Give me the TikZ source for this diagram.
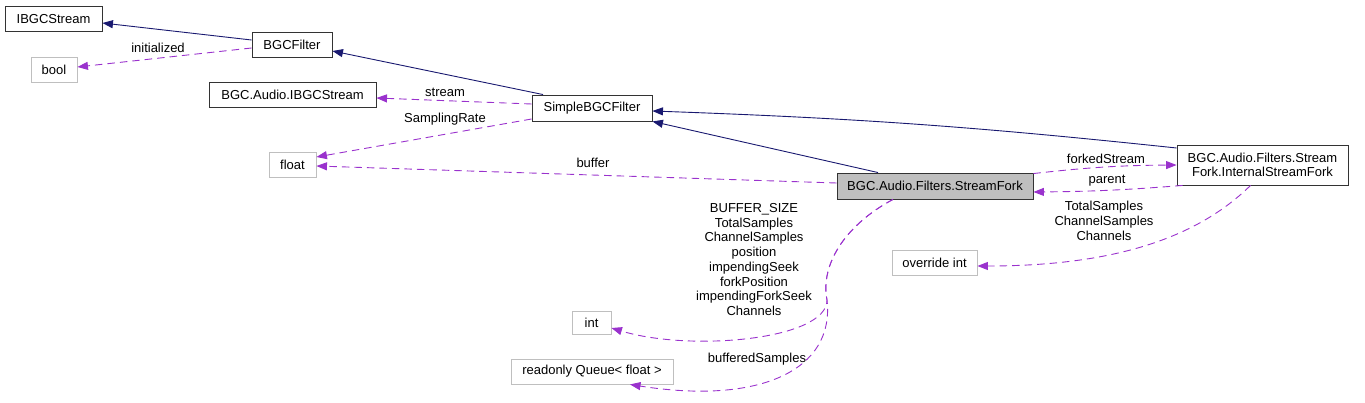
\documentclass[tikz,border=0pt]{standalone}
\usepackage{fontspec}
\setmainfont{Liberation Sans}
\usetikzlibrary{arrows.meta,positioning}

\definecolor{inhblue}{HTML}{191970}
\definecolor{usepurple}{HTML}{9A32CD}
\definecolor{extgray}{HTML}{BFBFBF}

\begin{document}
\begin{tikzpicture}[x=1pt, y=-1pt, >={Triangle[length=10.5pt,width=8pt]},
        font=\fontsize{13}{14.7}\selectfont,
        cls/.style={draw=black!80, line width=0.9pt, fill=white, inner sep=0pt, minimum height=25pt, align=center},
        ext/.style={cls, draw=extgray},
        cur/.style={cls, fill=extgray},
        inh/.style={->, draw=inhblue, line width=0.9pt},
        uses/.style={->, draw=usepurple, line width=0.9pt, dash pattern=on 7.5pt off 5pt},
        lbl/.style={inner sep=0pt, align=center}]
        \useasboundingbox (0,0) rectangle (1365,403);

        % classes
        \node[cls, minimum width=97pt] (ibgcstream) at (53.5,19) {IBGCStream};
        \node[cls, minimum width=80pt] (bgcfilter) at (292,44.5) {BGCFilter};
        \node[ext, minimum width=46pt] (bool) at (54,69.5) {bool};
        \node[cls, minimum width=167pt] (audiostream) at (292.5,94.5) {BGC.Audio.IBGCStream};
        \node[cls, minimum width=120pt, minimum height=26pt] (simple) at (592,108) {SimpleBGCFilter};
        \node[ext, minimum width=47pt] (float) at (292.5,164.5) {float};
        \node[cur, minimum width=196pt, minimum height=26pt] (fork) at (935,186) {BGC.Audio.Filters.StreamFork};
        \node[cls, minimum width=171pt, minimum height=40pt] (internal) at (1262.5,165) {BGC.Audio.Filters.Stream\\Fork.InternalStreamFork};
        \node[ext, minimum width=85pt] (overint) at (934.5,262.5) {override int};
        \node[ext, minimum width=39pt, minimum height=23pt] (int) at (591.5,322.5) {int};
        \node[ext, minimum width=162pt] (queue) at (592,371.5) {readonly Queue< float >};

        % inheritance
        \draw[inh] ([yshift=4.5pt]bgcfilter.west) -- ([yshift=-4pt]ibgcstream.east);
        \draw[inh] ([xshift=-49pt]simple.north) -- ([yshift=-6.5pt]bgcfilter.east);
        \draw[inh] ([xshift=-57pt]fork.north) -- (simple.south east);
        \draw[inh] ([yshift=17pt]internal.west) to[bend right=2] ([yshift=-3pt]simple.east);

        % usage
        \draw[uses] ([yshift=-3.5pt]bgcfilter.west) -- ([yshift=2.5pt]bool.east);
        \draw[uses] ([yshift=4pt]simple.west) -- ([yshift=-3.5pt]audiostream.east);
        \draw[uses] ([yshift=-11pt]simple.west) -- ([yshift=7.5pt]float.east);
        \draw[uses] ([yshift=3pt]fork.west) -- ([yshift=-1.5pt]float.east);
        \draw[uses] ([yshift=-1pt]fork.north east) to[bend left=3] (internal.west);
        \draw[uses] ([xshift=6pt]internal.south west) to[bend left=2] ([yshift=-6pt]fork.east);
        \draw[uses] ([xshift=-12pt]internal.south) .. controls (1200,235) and (1120,266) .. ([yshift=-3.5pt]overint.east);
        \draw[uses] ([xshift=-42pt]fork.south) .. controls (845,225) and (820,265) .. (827,300)
            .. controls (827,340) and (690,352) .. ([yshift=-5.5pt]int.east);
        \draw[uses] ([xshift=-42pt]fork.south) .. controls (845,225) and (820,265) .. (827,300)
            .. controls (835,370) and (760,405) .. ([xshift=38pt]queue.south);

        % labels
        \node[lbl] (linit) at (158,48) {initialized};
        \node[lbl] (lstream) at (445,92) {stream};
        \node[lbl] (lrate) at (445,119) {SamplingRate};
        \node[lbl] (lbuffer) at (593,163) {buffer};
        \node[lbl] (lforked) at (1106,159) {forkedStream};
        \node[lbl] (lparent) at (1107,181) {parent};
        \node[lbl] (lover) at (1104,221) {TotalSamples\\ChannelSamples\\Channels};
        \node[lbl] (lint) at (754,259.5) {BUFFER\_SIZE\\TotalSamples\\ChannelSamples\\position\\impendingSeek\\forkPosition\\impendingForkSeek\\Channels};
        \node[lbl] (lqueue) at (757,359) {bufferedSamples};
    \end{tikzpicture}
\end{document}
